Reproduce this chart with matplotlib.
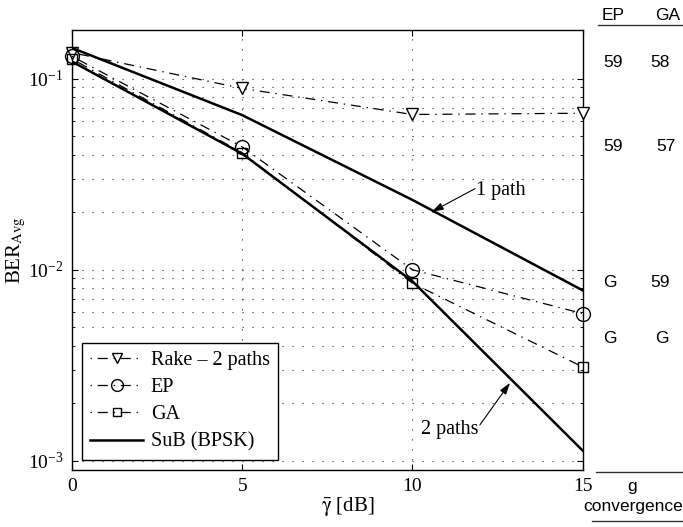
import matplotlib
matplotlib.use("Agg")
import matplotlib.pyplot as plt
from matplotlib.lines import Line2D
from matplotlib.ticker import LogLocator, FixedLocator, NullFormatter

plt.rcParams['font.family'] = ['Liberation Serif', 'DejaVu Serif']
plt.rcParams['mathtext.fontset'] = 'stix'
plt.rcParams['lines.scale_dashes'] = False

# Average SNR points [dB]
snr_db = [0, 5, 10, 15]

# Average BER curves
ber_rake_2paths = [0.137, 0.089, 0.065, 0.066]
ber_ep = [0.131, 0.044, 0.0100, 0.0059]
ber_ga = [0.127, 0.041, 0.0085, 0.0031]
ber_sub_1path = [0.145, 0.0645, 0.0232, 0.0078]
ber_sub_2paths = [0.123, 0.0405, 0.0087, 0.00113]

legend_labels = ['Rake \u2013 2 paths', 'EP', 'GA', 'SuB (BPSK)']

# Convergence summary table (right margin)
table_header = ['EP', 'GA']
table_rows = [['59', '58'], ['59', '57'], ['G', '59'], ['G', 'G']]
table_footer = ['g', 'convergence']

W, H = 683, 527
fig = plt.figure(figsize=(W / 100, H / 100), dpi=100)
ax = fig.add_axes([72 / W, 1 - 469.5 / H, (582.7 - 72) / W, (469.5 - 30) / H])

# dash-dot pattern starting on the dot
dashdot = (11.4, (7.2, 4.2, 1.0, 4.2))
ax.plot(snr_db, ber_rake_2paths, color='k', lw=0.9, ls=dashdot, marker='v',
        ms=8, mfc='white', mec='k', mew=1.0, label=legend_labels[0],
        zorder=3, clip_on=False)
ax.plot(snr_db, ber_ep, color='k', lw=0.9, ls=dashdot, marker='o',
        ms=10, mfc='none', mec='k', mew=1.0, label=legend_labels[1],
        zorder=3, clip_on=False)
ax.plot(snr_db, ber_ga, color='k', lw=0.9, ls=dashdot, marker='s',
        ms=7, mfc='none', mec='k', mew=1.0, label=legend_labels[2],
        zorder=3, clip_on=False)
ax.plot(snr_db, ber_sub_1path, color='k', lw=1.8, ls='-', label=legend_labels[3], zorder=4)
ax.plot(snr_db, ber_sub_2paths, color='k', lw=1.8, ls='-', zorder=4)

ax.set_yscale('log')
ax.set_xlim(0, 15)
ax.set_ylim(9e-4, 0.18)
ax.xaxis.set_major_locator(FixedLocator([0, 5, 10, 15]))
ax.yaxis.set_major_locator(LogLocator(base=10))
ax.yaxis.set_minor_locator(LogLocator(base=10, subs=range(2, 10)))
ax.yaxis.set_minor_formatter(NullFormatter())

grid_style = dict(color='0.25', lw=0.8, ls=(0, (0.9, 6.3)))
ax.grid(True, which='major', axis='both', **grid_style)
ax.grid(True, which='minor', axis='y', **grid_style)

ax.tick_params(which='both', direction='in', top=True, right=True,
               labelsize=14, colors='k')
ax.tick_params(which='major', length=4, width=0.8, pad=6)
ax.tick_params(which='minor', length=2.2, width=0.6)
for sp in ax.spines.values():
    sp.set_linewidth(1.0)
    sp.set_color('k')

fig.text(16 / W, 1 - 250 / H, 'BER$_{\\mathrm{Avg}}$', rotation=90,
         ha='center', va='center', fontsize=15)
fig.text(348 / W, 1 - 506 / H, '$\\bar{\\mathrm{\\gamma}}\\ $[dB]', ha='center',
         va='center', fontsize=15)

leg = ax.legend(loc='lower left', bbox_to_anchor=(0.0202, 0.0216),
                borderaxespad=0, fontsize=14.5, frameon=True, fancybox=False,
                edgecolor='k', framealpha=1, handlelength=2.6,
                handletextpad=0.4, labelspacing=0.41, borderpad=0.4,
                numpoints=1, markerscale=0.85)
leg.get_frame().set_linewidth(1.0)

arrow_kw = dict(arrowstyle='-|>,head_length=0.7,head_width=0.22', color='k',
                lw=0.8, shrinkA=0, shrinkB=0)
ax.annotate('', xy=(10.565, 0.0201), xytext=(11.84, 0.0266), arrowprops=arrow_kw)
ax.text(11.87, 0.0259, '1 path', ha='left', va='center', fontsize=14.5)
ax.annotate('', xy=(12.864, 0.00256), xytext=(11.98, 0.00154), arrowprops=arrow_kw)
ax.text(10.24, 0.00145, '2 paths', ha='left', va='center', fontsize=14.5)

# Right-margin convergence table
sans = ['Liberation Sans', 'DejaVu Sans']
tfs = 12.5
fig.text(613 / W, 1 - 15.3 / H, table_header[0], ha='center', va='center',
         fontsize=tfs, family=sans)
fig.text(667.5 / W, 1 - 15.3 / H, table_header[1], ha='center', va='center',
         fontsize=tfs, family=sans)
fig.add_artist(Line2D([598 / W, 1.0], [1 - 25 / H, 1 - 25 / H],
                      transform=fig.transFigure, color='0.2', lw=1.0))
row_y = [62.7, 146, 282.7, 338.3]
row_x = [[613, 660], [613, 666], [610, 660], [610, 661.7]]
for vals, y, xs in zip(table_rows, row_y, row_x):
    for v, x in zip(vals, xs):
        fig.text(x / W, 1 - y / H, v, ha='center', va='center',
                 fontsize=tfs, family=sans)
fig.add_artist(Line2D([596 / W, 1.0], [1 - 471.7 / H, 1 - 471.7 / H],
                      transform=fig.transFigure, color='0.2', lw=1.0))
fig.text(632.3 / W, 1 - 486 / H, table_footer[0], ha='center', va='center',
         fontsize=tfs, family=sans)
fig.text(632.7 / W, 1 - 506.7 / H, table_footer[1], ha='center', va='center',
         fontsize=tfs, family=sans)
fig.add_artist(Line2D([592 / W, 1.0], [1 - 521 / H, 1 - 521 / H],
                      transform=fig.transFigure, color='0.2', lw=1.0))

fig.savefig('out.png', dpi=100)
